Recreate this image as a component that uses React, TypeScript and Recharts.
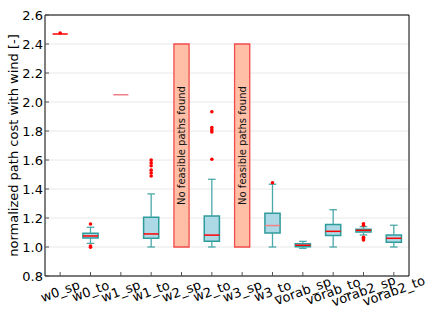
import React from "react";
import {
  ComposedChart,
  XAxis,
  YAxis,
  CartesianGrid,
  Scatter,
  ReferenceArea,
  ReferenceLine,
} from "recharts";

const categories = [
  "w0_sp", "w0_to", "w1_sp", "w1_to", "w2_sp", "w2_to",
  "w3_sp", "w3_to", "vorab_sp", "vorab_to", "vorab2_sp", "vorab2_to",
];
// box plot statistics per category (null = no feasible path)
const whiskerLow = [2.469, 1.025, 2.05, 1.0, null, 1.0, null, 1.0, 0.991, 1.0, 1.083, 1.0];
const quartile1 = [2.469, 1.062, 2.05, 1.06, null, 1.04, null, 1.097, 1.002, 1.08, 1.103, 1.032];
const medians = [2.469, 1.076, 2.05, 1.09, null, 1.082, null, 1.148, 1.012, 1.108, 1.115, 1.06];
const quartile3 = [2.469, 1.094, 2.05, 1.205, null, 1.214, null, 1.232, 1.023, 1.156, 1.122, 1.083];
const whiskerHigh = [2.469, 1.136, 2.05, 1.366, null, 1.467, null, 1.433, 1.039, 1.257, 1.14, 1.15];

const outlierCats = [
  "w0_sp", "w0_to", "w0_to", "w0_to",
  "w1_to", "w1_to", "w1_to", "w1_to", "w1_to", "w1_to",
  "w2_to", "w2_to", "w2_to", "w2_to", "w2_to",
  "w3_to",
  "vorab2_sp", "vorab2_sp", "vorab2_sp", "vorab2_sp", "vorab2_sp",
];
const outlierValues = [
  2.476, 1.159, 1.007, 0.998,
  1.49, 1.51, 1.53, 1.56, 1.58, 1.6,
  1.605, 1.793, 1.807, 1.823, 1.933,
  1.443,
  1.16, 1.15, 1.067, 1.058, 1.048,
];

const infeasibleCats = ["w2_sp", "w3_sp"];
const infeasibleRange = [1.0, 2.4];
const infeasibleText = "No feasible paths found";

const yTicks = [0.8, 1.0, 1.2, 1.4, 1.6, 1.8, 2.0, 2.2, 2.4, 2.6];
const xTicks = categories.map((_, i) => i + 1);

const FONT = "DejaVu Sans, sans-serif";
const BOX_EDGE = "#2e9b9b";
const WHISKER = "#4aa9a9";
const fadedMedian = ["w1_sp", "w3_to"];

const outlierData = outlierCats.map((c, i) => ({
  x: categories.indexOf(c) + 1,
  y: outlierValues[i],
}));

const XTick = (props: any) => {
  const { x, y, payload } = props;
  const name = categories[payload.value - 1] ?? "";
  const cy = y + 11;
  return (
    <text
      x={x}
      y={cy}
      textAnchor="middle"
      dominantBaseline="central"
      transform={`rotate(-20, ${x}, ${cy})`}
      fontSize={13}
      fontFamily={FONT}
      fill="#000"
    >
      {name}
    </text>
  );
};

const Dot = (props: any) => {
  const { cx, cy } = props;
  return <circle cx={cx} cy={cy} r={1.8} fill="#ff0000" />;
};

export default function App() {
  const half = 0.25;
  const cap = 0.125;

  const boxes = categories.flatMap((cat, i) => {
    const x = i + 1;
    if (medians[i] == null) return [];
    const lo = whiskerLow[i] as number;
    const q1 = quartile1[i] as number;
    const m = medians[i] as number;
    const q3 = quartile3[i] as number;
    const hi = whiskerHigh[i] as number;
    const out: React.ReactNode[] = [];
    if (hi > lo) {
      out.push(
        <ReferenceLine key={`wl-${cat}`} segment={[{ x, y: lo }, { x, y: q1 }]} stroke={WHISKER} strokeWidth={1.3} />,
        <ReferenceLine key={`wh-${cat}`} segment={[{ x, y: q3 }, { x, y: hi }]} stroke={WHISKER} strokeWidth={1.3} />,
        <ReferenceLine key={`cl-${cat}`} segment={[{ x: x - cap, y: lo }, { x: x + cap, y: lo }]} stroke={WHISKER} strokeWidth={1.3} />,
        <ReferenceLine key={`ch-${cat}`} segment={[{ x: x - cap, y: hi }, { x: x + cap, y: hi }]} stroke={WHISKER} strokeWidth={1.3} />,
        <ReferenceArea
          key={`box-${cat}`}
          x1={x - half}
          x2={x + half}
          y1={q1}
          y2={q3}
          fill="#add8e6"
          fillOpacity={1}
          stroke={BOX_EDGE}
          strokeWidth={1.5}
        />
      );
    }
    out.push(
      <ReferenceLine
        key={`med-${cat}`}
        segment={[{ x: x - half, y: m }, { x: x + half, y: m }]}
        stroke={fadedMedian.includes(cat) ? "#ee8088" : "#ff0000"}
        strokeWidth={1.5}
      />
    );
    return out;
  });

  const infeasible = infeasibleCats.map((cat) => {
    const x = categories.indexOf(cat) + 1;
    return (
      <ReferenceArea
        key={`inf-${cat}`}
        x1={x - half}
        x2={x + half}
        y1={infeasibleRange[0]}
        y2={infeasibleRange[1]}
        fill="#ffbea6"
        fillOpacity={1}
        stroke="#f24b4b"
        strokeWidth={1.3}
        label={{
          value: infeasibleText,
          angle: -90,
          position: "center",
          fontSize: 10,
          fontFamily: FONT,
          fill: "#111",
        }}
      />
    );
  });

  return (
    <div style={{ position: "absolute", left: 0, top: 0 }}>
      <ComposedChart
        width={432}
        height={324}
        margin={{ top: 14, right: 22, bottom: 0, left: 0 }}
      >
        <CartesianGrid vertical={false} stroke="#e8e8e8" />
        <XAxis
          dataKey="x"
          type="number"
          domain={[0.5, 12.5]}
          ticks={xTicks}
          allowDataOverflow
          height={48}
          tickSize={-4}
          tickMargin={8}
          tick={<XTick />}
          stroke="#000"
          tickLine={{ stroke: "#555" }}
          interval={0}
        />
        <XAxis
          xAxisId="top"
          orientation="top"
          type="number"
          domain={[0.5, 12.5]}
          ticks={xTicks}
          allowDataOverflow
          height={1}
          tickSize={-4}
          tick={false}
          stroke="#000"
          tickLine={{ stroke: "#555" }}
          interval={0}
        />
        <YAxis
          type="number"
          domain={[0.8, 2.6]}
          ticks={yTicks}
          allowDataOverflow
          width={45}
          tickSize={-4}
          tickMargin={6}
          tickFormatter={(v: number) => v.toFixed(1)}
          tick={{ fontSize: 13, fontFamily: FONT, fill: "#000" }}
          stroke="#000"
          tickLine={{ stroke: "#555" }}
          interval={0}
          label={{
            value: "normalized path cost with wind [-]",
            angle: -90,
            position: "insideLeft",
            offset: 13,
            fontSize: 13,
            fontFamily: FONT,
            fill: "#000",
            style: { textAnchor: "middle" },
          }}
        />
        <YAxis
          yAxisId="right"
          orientation="right"
          type="number"
          domain={[0.8, 2.6]}
          ticks={yTicks}
          allowDataOverflow
          width={1}
          tickSize={-4}
          tick={false}
          stroke="#000"
          tickLine={{ stroke: "#555" }}
          interval={0}
        />
        {infeasible}
        {boxes}
        <Scatter
          data={outlierData}
          dataKey="y"
          shape={<Dot />}
          isAnimationActive={false}
        />
      </ComposedChart>
    </div>
  );
}
